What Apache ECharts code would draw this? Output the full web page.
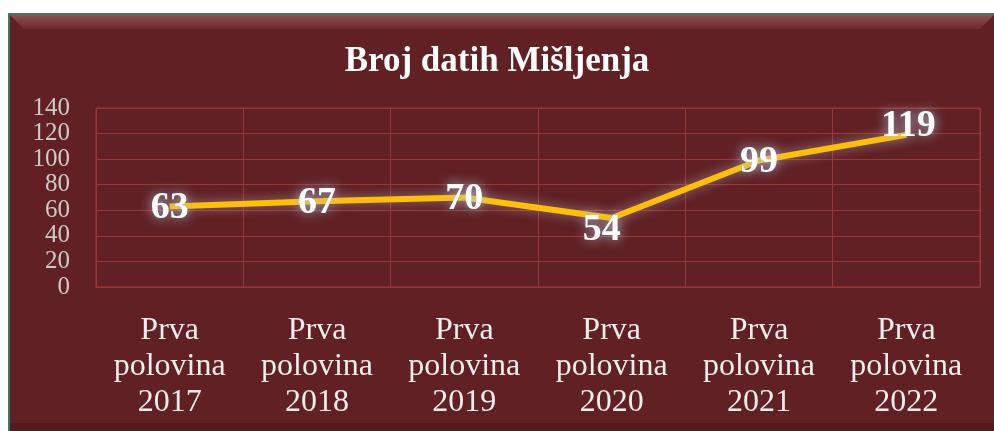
<!DOCTYPE html>
<html><head><meta charset="utf-8">
<script src="https://cdn.jsdelivr.net/npm/echarts@6/dist/echarts.min.js"></script>
<style>html,body{margin:0;padding:0;background:#fff;}#c{width:994px;height:431px;}</style>
</head><body><div id="c"></div>
<script>
var titleText = 'Broj datih Mišljenja';
var categories = ['Prva\npolovina\n2017','Prva\npolovina\n2018','Prva\npolovina\n2019','Prva\npolovina\n2020','Prva\npolovina\n2021','Prva\npolovina\n2022'];
var values = [63, 67, 70, 54, 99, 119];
var yTicks = [0, 20, 40, 60, 80, 100, 120, 140];

var labelOffsets = [[0,2],[0,2],[0,2],[-10,12],[0,2],[2,-9]];
var chart = echarts.init(document.getElementById('c'));
var serif = '"Liberation Serif", "DejaVu Serif", serif';
chart.setOption({
  backgroundColor: '#ffffff',
  animation: false,
  graphic: [
    {type:'rect', z:-10, shape:{x:9,y:14,width:990,height:420}, style:{fill:'#602024', stroke:'#3f7a5c', lineWidth:2}},
    {type:'polygon', z:-9, shape:{points:[[10,15],[994,15],[980,29],[24,29]]},
      style:{fill:new echarts.graphic.LinearGradient(0,0,0,1,[{offset:0,color:'#8c5052'},{offset:1,color:'#6a2a2d'}])}},
    {type:'rect', z:-9, shape:{x:10,y:423,width:984,height:8}, style:{fill:'#541a1d'}}
  ],
  title: {
    text: titleText, left: 'center', top: 39,
    textStyle: {color:'#ffffff', fontFamily: serif, fontWeight:'bold', fontSize: 35}
  },
  grid: {left: 96, right: 14, top: 108, bottom: 144, show: true, borderColor: '#9a3638', borderWidth: 1},
  xAxis: {
    type: 'category', data: categories, boundaryGap: true,
    axisLine: {show: true, lineStyle: {color: '#9a3638'}},
    axisTick: {show: false},
    splitLine: {show: true, lineStyle: {color: '#9a3638', width: 1}},
    axisLabel: {color: '#f2eeee', fontFamily: serif, fontSize: 32, lineHeight: 36, margin: 26, interval: 0}
  },
  yAxis: {
    type: 'value', min: yTicks[0], max: yTicks[yTicks.length-1], interval: 20,
    axisLine: {show: false}, axisTick: {show: false},
    splitLine: {show: true, lineStyle: {color: '#9a3638', width: 1}},
    axisLabel: {color: '#cfc8c8', fontFamily: serif, fontSize: 25, margin: 26}
  },
  series: [{
    type: 'line', data: values.map(function(v,i){return {value:v, label:{offset:labelOffsets[i]}};}),
    symbol: 'circle', symbolSize: 1, showSymbol: true,
    itemStyle: {color: 'rgba(0,0,0,0)'},
    lineStyle: {color: '#ffc000', width: 6, shadowColor: 'rgba(200,205,225,0.55)', shadowBlur: 12},
    label: {show: true, position: 'inside', color: '#ffffff', fontFamily: serif, fontWeight: 'bold', fontSize: 38,
      textShadowColor: 'rgba(175,190,210,1)', textShadowBlur: 12},
    z: 3
  }]
});
</script></body></html>
